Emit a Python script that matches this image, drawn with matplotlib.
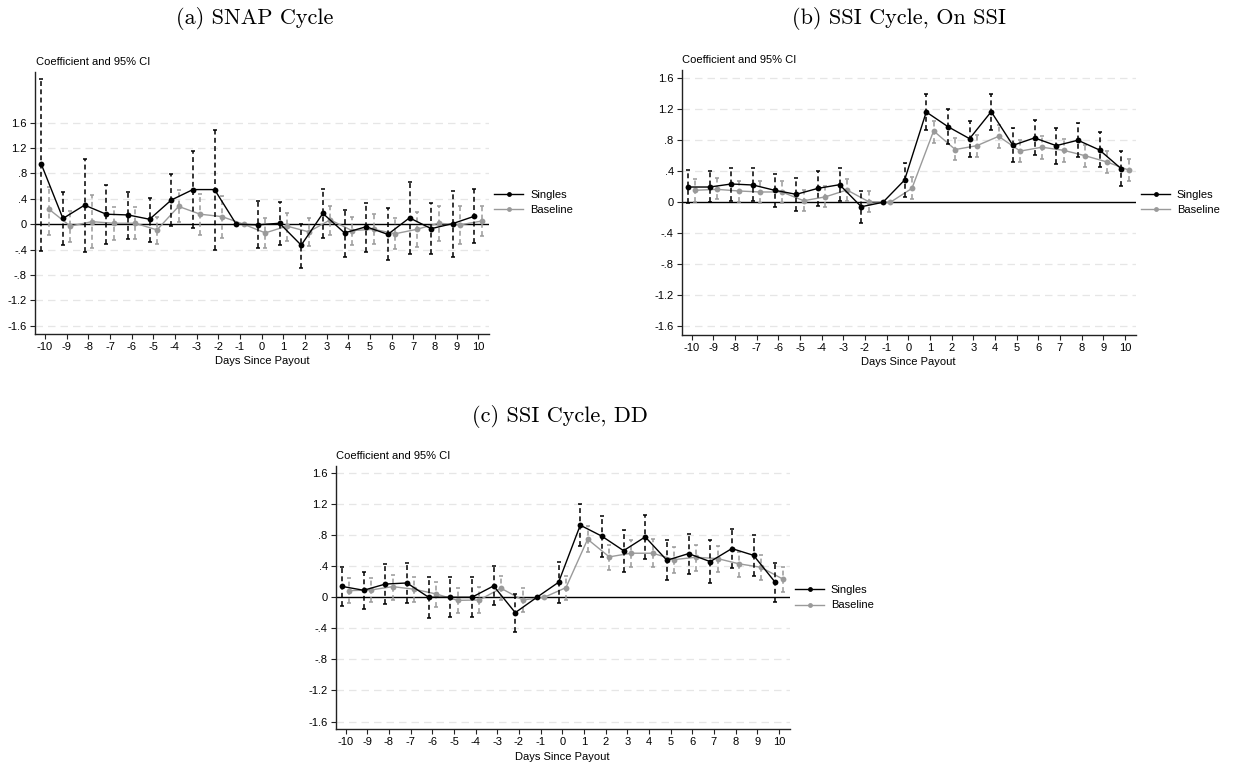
import numpy as np
import matplotlib
matplotlib.use("Agg")
import matplotlib.pyplot as plt
from matplotlib.lines import Line2D

plt.rcParams["font.family"] = ["Liberation Sans", "DejaVu Sans"]

nan = np.nan
days = np.arange(-10, 11)

# (a) SNAP cycle
snap_singles = [0.945, 0.09, 0.30, 0.157, 0.146, 0.078, 0.38, 0.545, 0.545, 0.0, -0.01,
                0.015, -0.33, 0.17, -0.137, -0.04, -0.16, 0.10, -0.07, 0.01, 0.126]
snap_singles_lo = [-0.415, -0.32, -0.43, -0.31, -0.23, -0.28, -0.03, -0.06, -0.41, nan, -0.38,
                   -0.32, -0.69, -0.21, -0.51, -0.44, -0.57, -0.47, -0.47, -0.51, -0.30]
snap_singles_hi = [2.29, 0.50, 1.03, 0.61, 0.51, 0.42, 0.79, 1.15, 1.49, nan, 0.36,
                   0.35, 0.01, 0.56, 0.225, 0.335, 0.25, 0.67, 0.34, 0.52, 0.55]
snap_base = [0.24, -0.03, 0.04, 0.015, 0.015, -0.09, 0.28, 0.157, 0.12, 0.0, -0.137,
             -0.03, -0.12, 0.068, -0.10, -0.08, -0.15, -0.08, 0.015, -0.01, 0.05]
snap_base_lo = [-0.17, -0.28, -0.38, -0.25, -0.23, -0.31, 0.03, -0.17, -0.21, nan, -0.37,
                -0.27, -0.35, -0.17, -0.33, -0.31, -0.39, -0.36, -0.26, -0.31, -0.19]
snap_base_hi = [0.58, 0.21, 0.46, 0.27, 0.27, 0.12, 0.535, 0.48, 0.44, nan, 0.10,
                0.18, 0.10, 0.29, 0.12, 0.157, 0.095, 0.19, 0.28, 0.29, 0.29]

# (b) SSI cycle, on SSI
ssi_singles = [0.197, 0.197, 0.236, 0.223, 0.155, 0.103, 0.18, 0.227, -0.057, 0.0, 0.287,
               1.164, 0.975, 0.82, 1.168, 0.734, 0.83, 0.73, 0.80, 0.674, 0.433]
ssi_singles_lo = [-0.01, 0.0, 0.02, 0.013, -0.065, -0.116, -0.048, 0.013, -0.27, nan, 0.07,
                  0.928, 0.75, 0.59, 0.93, 0.515, 0.605, 0.50, 0.58, 0.45, 0.214]
ssi_singles_hi = [0.416, 0.40, 0.44, 0.44, 0.37, 0.317, 0.40, 0.44, 0.14, nan, 0.51,
                  1.396, 1.20, 1.05, 1.396, 0.953, 1.056, 0.96, 1.02, 0.90, 0.657]
ssi_base = [0.155, 0.167, 0.146, 0.133, 0.133, 0.02, 0.07, 0.159, 0.008, 0.0, 0.18,
            0.92, 0.68, 0.73, 0.85, 0.66, 0.71, 0.67, 0.60, 0.52, 0.416]
ssi_base_lo = [0.0, 0.04, 0.01, -0.005, -0.01, -0.11, -0.065, 0.017, -0.13, nan, 0.04,
               0.77, 0.54, 0.58, 0.70, 0.515, 0.56, 0.52, 0.45, 0.38, 0.27]
ssi_base_hi = [0.296, 0.31, 0.28, 0.27, 0.27, 0.16, 0.21, 0.30, 0.14, nan, 0.32,
               1.05, 0.83, 0.87, 0.996, 0.80, 0.855, 0.81, 0.74, 0.66, 0.56]

# (c) SSI cycle, DD
dd_singles = [0.14, 0.09, 0.17, 0.184, 0.0, 0.0, 0.0, 0.146, -0.198, 0.0, 0.193,
              0.928, 0.786, 0.60, 0.777, 0.476, 0.562, 0.459, 0.627, 0.54, 0.193]
dd_singles_lo = [-0.11, -0.15, -0.09, -0.08, -0.27, -0.26, -0.26, -0.10, -0.45, nan, -0.08,
                 0.657, 0.523, 0.33, 0.49, 0.223, 0.30, 0.18, 0.373, 0.275, -0.065]
dd_singles_hi = [0.387, 0.326, 0.425, 0.438, 0.26, 0.266, 0.266, 0.40, 0.046, nan, 0.46,
                 1.198, 1.04, 0.87, 1.065, 0.734, 0.82, 0.734, 0.876, 0.80, 0.446]
dd_base = [0.085, 0.094, 0.137, 0.103, 0.043, -0.04, -0.035, 0.116, -0.035, 0.0, 0.124,
           0.747, 0.52, 0.567, 0.567, 0.485, 0.515, 0.498, 0.43, 0.386, 0.236]
dd_base_lo = [-0.08, -0.065, -0.03, -0.06, -0.12, -0.2, -0.2, -0.04, -0.19, nan, -0.04,
              0.584, 0.35, 0.394, 0.386, 0.317, 0.339, 0.326, 0.266, 0.223, 0.072]
dd_base_hi = [0.25, 0.245, 0.29, 0.26, 0.2, 0.124, 0.13, 0.27, 0.124, nan, 0.28,
              0.915, 0.678, 0.738, 0.747, 0.644, 0.678, 0.66, 0.588, 0.55, 0.394]

y_ticks = [-1.6, -1.2, -0.8, -0.4, 0, 0.4, 0.8, 1.2, 1.6]
y_tick_labels = ["-1.6", "-1.2", "-.8", "-.4", "0", ".4", ".8", "1.2", "1.6"]
series_labels = ["Singles", "Baseline"]
titles = ["(a) SNAP Cycle", "(b) SSI Cycle, On SSI", "(c) SSI Cycle, DD"]

BLACK = "#000000"
GRAY = "#9a9a9a"
W, H = 1235, 768

fig = plt.figure(figsize=(W / 100, H / 100), dpi=100)
fig.patch.set_facecolor("white")


def px_axes(left, top, right, bottom):
    return fig.add_axes([left / W, 1 - bottom / H, (right - left) / W, (bottom - top) / H])


def draw_series(ax, x, est, lo, hi, color, z):
    est = np.asarray(est, float)
    lo = np.asarray(lo, float)
    hi = np.asarray(hi, float)
    ok = ~np.isnan(lo)
    ax.vlines(x[ok], lo[ok], hi[ok], colors=color, linewidth=1.1,
              linestyles=(0, (3.2, 2.2)), zorder=z)
    ax.plot(x[ok], lo[ok], linestyle="none", marker="_", markersize=3.5,
            markeredgewidth=1.1, color=color, zorder=z)
    ax.plot(x[ok], hi[ok], linestyle="none", marker="_", markersize=3.5,
            markeredgewidth=1.1, color=color, zorder=z)
    ax.plot(x, est, color=color, linewidth=1.0, marker="o", markersize=4.2,
            markeredgewidth=0, zorder=z + 0.5)


def panel(ax, singles, s_lo, s_hi, base, b_lo, b_hi, ylim):
    offset = 0.17
    draw_series(ax, days + offset, base, b_lo, b_hi, GRAY, 3)
    draw_series(ax, days - offset, singles, s_lo, s_hi, BLACK, 4)

    for t in y_ticks:
        if t != 0:
            ax.axhline(t, color="#e6e6e6", linewidth=0.9, linestyle=(0, (6, 4)), zorder=0)
    ax.axhline(0, color="black", linewidth=1.0, zorder=2)

    ax.set_xlim(-10.46, 10.5)
    ax.set_ylim(*ylim)
    ax.set_xticks(days)
    ax.set_xticklabels([str(d) for d in days])
    ax.set_yticks(y_ticks)
    ax.set_yticklabels(y_tick_labels)
    for s in ["top", "right"]:
        ax.spines[s].set_visible(False)
    for s in ["left", "bottom"]:
        ax.spines[s].set_linewidth(1.0)
        ax.spines[s].set_color("#222222")
    ax.tick_params(axis="both", direction="out", length=3.8, width=0.8,
                   labelsize=8, pad=2, colors="#222222", labelcolor="black")
    ax.set_xlabel("Days Since Payout", fontsize=8, labelpad=3)
    ax.annotate("Coefficient and 95% CI", xy=(0, 1), xycoords="axes fraction",
                xytext=(0.5, 3.5), textcoords="offset points",
                ha="left", va="bottom", fontsize=8)

    handles = [Line2D([], [], color=BLACK, linewidth=1.0, marker="o", markersize=3.5,
                      markeredgewidth=0),
               Line2D([], [], color=GRAY, linewidth=1.0, marker="o", markersize=3.5,
                      markeredgewidth=0)]
    ax.legend(handles, series_labels, loc="center left", bbox_to_anchor=(1.012, 0.5),
              frameon=False, fontsize=8, handlelength=2.6, handletextpad=0.6,
              borderaxespad=0, borderpad=0, labelspacing=0.5)


ax_a = px_axes(35, 71.7, 489, 333.5)
panel(ax_a, snap_singles, snap_singles_lo, snap_singles_hi,
      snap_base, snap_base_lo, snap_base_hi, (-1.72, 2.40))

ax_b = px_axes(681.7, 70, 1135.7, 335)
panel(ax_b, ssi_singles, ssi_singles_lo, ssi_singles_hi,
      ssi_base, ssi_base_lo, ssi_base_hi, (-1.71, 1.705))

ax_c = px_axes(335.7, 466, 789.7, 729.3)
panel(ax_c, dd_singles, dd_singles_lo, dd_singles_hi,
      dd_base, dd_base_lo, dd_base_hi, (-1.70, 1.69))

title_pos = [(255, 18), (899, 18), (560, 416)]
for (tx, ty), title in zip(title_pos, titles):
    fig.text(tx / W, 1 - ty / H, title, ha="center", va="center",
             fontsize=16, family="cmr10")

fig.savefig("out.png", dpi=100, facecolor="white")
